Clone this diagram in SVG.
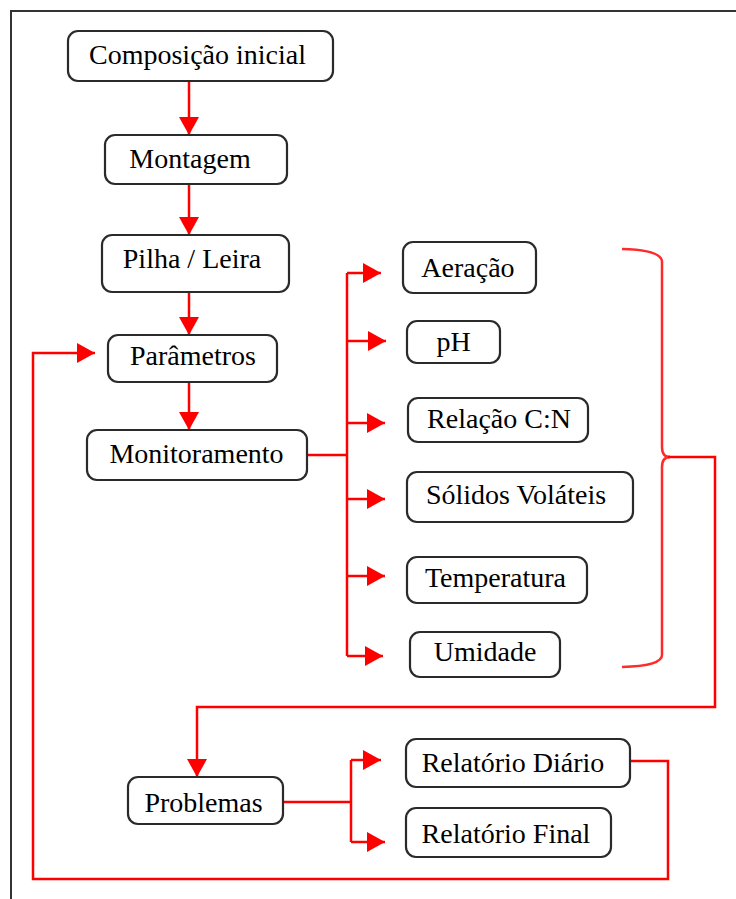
<svg xmlns="http://www.w3.org/2000/svg" width="736" height="899" viewBox="0 0 736 899">
<style>
.box{fill:#fff;stroke:#2a2a2a;stroke-width:2.2}
.lbl{font-family:"Liberation Serif","Times New Roman",serif;font-size:28px;fill:#000;text-anchor:middle}
.con{fill:none;stroke:#ff0000;stroke-width:2.5}
.brace{fill:none;stroke:#ff2a2a;stroke-width:2.5}
.frame{fill:none;stroke:#333;stroke-width:2}
</style>
<defs>
<marker id="ah" markerUnits="userSpaceOnUse" markerWidth="18" markerHeight="20" refX="18" refY="10" orient="auto">
<path d="M0,0 L18,10 L0,20 z" fill="#ff0000"/>
</marker>
</defs>
<rect width="736" height="899" fill="#fff"/>
<path class="frame" d="M11,899 L11,11 L736,11"/>

<g id="connectors">
<path class="con" d="M189,81 L189,135" marker-end="url(#ah)"/>
<path class="con" d="M189,184 L189,235" marker-end="url(#ah)"/>
<path class="con" d="M189,292 L189,335" marker-end="url(#ah)"/>
<path class="con" d="M189,382 L189,430" marker-end="url(#ah)"/>
<path class="con" d="M307,455 L347,455"/>
<path class="con" d="M347,273 L347,656"/>
<path class="con" d="M347,273 L381,273" marker-end="url(#ah)"/>
<path class="con" d="M347,341 L386,341" marker-end="url(#ah)"/>
<path class="con" d="M347,423 L385,423" marker-end="url(#ah)"/>
<path class="con" d="M347,499 L385,499" marker-end="url(#ah)"/>
<path class="con" d="M347,576 L385,576" marker-end="url(#ah)"/>
<path class="con" d="M347,656 L383,656" marker-end="url(#ah)"/>
<path class="brace" d="M622,249 Q662,250 662,262 L662,447 Q662,457 670,457 Q662,457 662,467 L662,655 Q662,666 622,667"/>
<path class="con" d="M668,457 L715,457 L715,707 L197,707 L197,777" marker-end="url(#ah)"/>
<path class="con" d="M283,802 L351,802"/>
<path class="con" d="M351,760 L351,842"/>
<path class="con" d="M351,760 L381,760" marker-end="url(#ah)"/>
<path class="con" d="M351,842 L385,842" marker-end="url(#ah)"/>
<path class="con" d="M630,761 L668,761 L668,879 L33,879 L33,353 L95,353" marker-end="url(#ah)"/>
</g>

<g id="composicao"><rect class="box" x="68" y="31" width="265" height="50" rx="10"/><text class="lbl" x="197.5" y="64">Composição inicial</text></g>
<g id="montagem"><rect class="box" x="105" y="135" width="182" height="49" rx="10"/><text class="lbl" x="190" y="168">Montagem</text></g>
<g id="pilha"><rect class="box" x="102" y="235" width="187" height="57" rx="10"/><text class="lbl" x="192" y="268">Pilha / Leira</text></g>
<g id="parametros"><rect class="box" x="108" y="335" width="169" height="47" rx="10"/><text class="lbl" x="193" y="365">Parâmetros</text></g>
<g id="monitoramento"><rect class="box" x="87" y="430" width="220" height="50" rx="10"/><text class="lbl" x="196.5" y="463">Monitoramento</text></g>
<g id="aeracao"><rect class="box" x="403" y="242" width="133" height="51" rx="10"/><text class="lbl" x="468" y="277">Aeração</text></g>
<g id="ph"><rect class="box" x="407" y="321" width="93" height="42" rx="10"/><text class="lbl" x="453.5" y="351">pH</text></g>
<g id="relacao"><rect class="box" x="408" y="398" width="180" height="44" rx="10"/><text class="lbl" x="499" y="428">Relação C:N</text></g>
<g id="solidos"><rect class="box" x="407" y="472" width="226" height="50" rx="10"/><text class="lbl" x="516" y="504">Sólidos Voláteis</text></g>
<g id="temperatura"><rect class="box" x="407" y="557" width="180" height="46" rx="10"/><text class="lbl" x="495.5" y="587">Temperatura</text></g>
<g id="umidade"><rect class="box" x="410" y="632" width="150" height="45" rx="10"/><text class="lbl" x="485" y="661">Umidade</text></g>
<g id="problemas"><rect class="box" x="128" y="777" width="155" height="47" rx="10"/><text class="lbl" x="203.5" y="812">Problemas</text></g>
<g id="relatorio-diario"><rect class="box" x="406" y="739" width="224" height="48" rx="10"/><text class="lbl" x="513" y="772">Relatório Diário</text></g>
<g id="relatorio-final"><rect class="box" x="406" y="808" width="205" height="49" rx="10"/><text class="lbl" x="506" y="843">Relatório Final</text></g>
</svg>
